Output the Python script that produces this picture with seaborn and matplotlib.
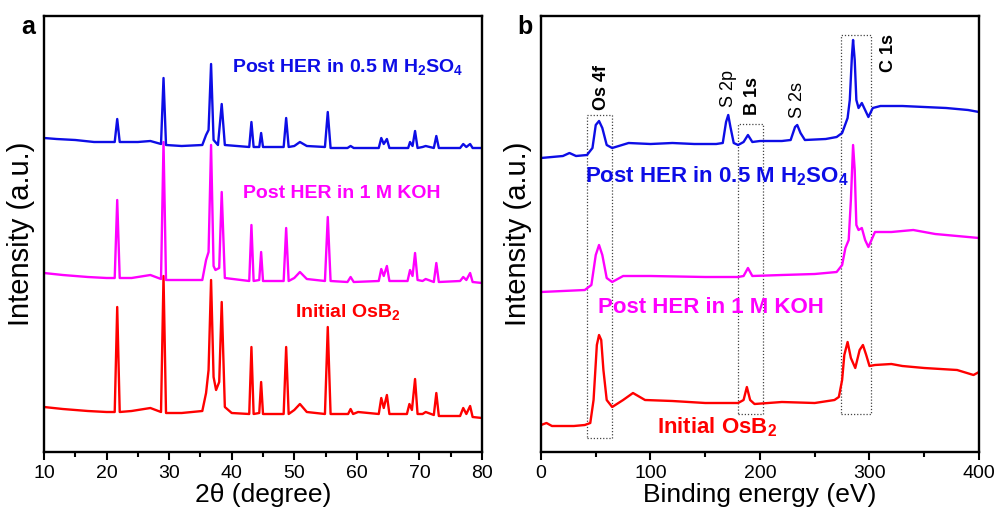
import matplotlib
matplotlib.use("Agg")
import matplotlib.pyplot as plt
import seaborn as sns
from matplotlib.ticker import MultipleLocator
from matplotlib.patches import Rectangle

# ---------------- Panel a : XRD (2theta, offset intensity in a.u.) ----------------
xrd_h2so4_x = [10.0, 12.0, 15.0, 18.0, 21.3, 21.7, 22.1, 25.0, 27.0, 28.7, 29.1, 29.5, 32.0, 35.3,
               35.9, 36.3, 36.7, 37.1, 37.8, 38.4, 38.9, 42.8, 43.15, 43.5, 44.4, 44.7, 45.0, 48.3,
               48.7, 49.1, 50.0, 50.9, 52.0, 54.9, 55.35, 55.8, 58.5, 59.0, 59.5, 63.5, 63.9, 64.3,
               64.8, 65.2, 68.2, 68.5, 68.9, 69.3, 69.7, 70.5, 71.0, 72.3, 72.7, 73.1, 76.5, 77.0,
               77.5, 78.1, 78.5, 80.0]
xrd_h2so4_y = [314, 313, 312, 310, 310, 333, 310, 310, 311, 308, 374, 307, 306, 307,
               317, 322, 388, 312, 307, 348, 307, 305, 330, 305, 305, 319, 305, 305,
               334, 305, 306, 310, 306, 305, 340, 304, 304, 306, 304, 304, 314, 308,
               313, 304, 304, 310, 306, 321, 304, 305, 306, 304, 316, 304, 304, 308,
               305, 308, 304, 304]

xrd_koh_x = [10.0, 13.0, 17.0, 20.0, 21.3, 21.7, 22.1, 24.0, 27.0, 28.7, 29.1, 29.5, 32.0, 35.3,
             35.9, 36.3, 36.7, 37.1, 37.4, 38.0, 38.4, 38.9, 42.8, 43.15, 43.5, 44.4, 44.7, 45.0,
             48.3, 48.7, 49.1, 50.0, 50.9, 52.0, 54.9, 55.35, 55.8, 58.5, 59.0, 59.5, 63.5, 63.9,
             64.3, 64.8, 65.2, 68.1, 68.5, 68.9, 69.3, 69.7, 70.5, 71.0, 72.3, 72.7, 73.1, 76.5,
             77.0, 77.5, 78.1, 78.5, 80.0]
xrd_koh_y = [179, 177, 175, 174, 174, 252, 174, 174, 177, 173, 310, 172, 172, 172,
             192, 200, 307, 186, 182, 184, 260, 174, 171, 227, 171, 172, 200, 171,
             171, 224, 171, 174, 180, 173, 171, 235, 171, 170, 175, 170, 171, 183,
             176, 186, 171, 171, 182, 176, 199, 172, 171, 173, 170, 189, 170, 171,
             175, 172, 179, 170, 169]

xrd_init_x = [10.0, 13.0, 17.0, 20.0, 21.3, 21.7, 22.1, 24.0, 27.0, 28.7, 29.1, 29.5, 32.0, 35.3,
              35.9, 36.3, 36.7, 37.1, 37.5, 38.0, 38.4, 38.9, 40.0, 42.8, 43.15, 43.5, 44.4, 44.7,
              45.0, 48.3, 48.7, 49.1, 50.0, 50.9, 52.0, 54.9, 55.35, 55.8, 58.6, 59.0, 59.4, 60.2,
              63.5, 63.9, 64.3, 64.8, 65.2, 68.0, 68.4, 68.8, 69.3, 69.7, 70.5, 71.0, 72.3, 72.7,
              73.1, 76.5, 77.0, 77.5, 78.1, 78.5, 80.0]
xrd_init_y = [45, 43, 41, 40, 40, 145, 40, 41, 44, 40, 176, 39, 39, 41,
              59, 82, 172, 75, 62, 70, 150, 45, 39, 38, 105, 38, 39, 70,
              38, 38, 105, 38, 42, 48, 40, 38, 125, 38, 38, 43, 38, 40,
              38, 54, 44, 57, 38, 38, 48, 42, 73, 38, 38, 40, 37, 59,
              36, 36, 44, 38, 46, 35, 34]

# ---------------- Panel b : XPS survey (binding energy, offset intensity) ----------------
xps_h2so4_x = [0, 20, 26, 32, 42, 47, 50, 53, 56, 60, 65, 80, 100, 120, 140, 160, 166, 169, 171,
               173, 176, 180, 185, 189, 193, 200, 220, 228, 232, 234, 237, 241, 260, 270, 275, 280,
               282, 284, 285, 286.5, 288, 290, 293, 296, 299, 303, 310, 330, 350, 370, 390, 400]
xps_h2so4_y = [294, 296, 299, 296, 297, 304, 327, 331, 324, 307, 304, 309, 308, 309, 308, 308, 309,
               330, 337, 325, 309, 307, 310, 317, 310, 311, 311, 312, 325, 327, 319, 312, 313, 315,
               319, 334, 352, 397, 412, 392, 352, 344, 349, 342, 335, 344, 346, 346, 345, 344, 342,
               340]

xps_koh_x = [0, 20, 40, 46, 50, 53, 56, 60, 65, 75, 100, 150, 180, 185, 189, 193, 220, 250, 270,
             275, 278, 281, 283, 285, 286.5, 288, 290, 293, 296, 299, 305, 320, 340, 360, 380, 400]
xps_koh_y = [160, 161, 162, 167, 197, 207, 197, 174, 170, 176, 176, 175, 175, 176, 184, 176, 177,
             178, 180, 187, 204, 212, 252, 307, 282, 227, 222, 224, 212, 205, 220, 220, 222, 218,
             216, 214]

xps_init_x = [0, 5, 10, 30, 40, 45, 48, 51, 53, 55, 57, 60, 65, 75, 84, 95, 120, 150, 180, 185,
              188, 191, 195, 220, 250, 268, 272, 275, 277, 280, 283, 287, 291, 294, 297, 300, 305,
              320, 330, 350, 380, 395, 400]
xps_init_y = [27, 29, 26, 26, 27, 29, 52, 107, 117, 112, 82, 52, 45, 52, 59, 52, 51, 49, 49, 52,
              65, 52, 48, 50, 49, 52, 55, 72, 97, 110, 94, 84, 102, 107, 97, 86, 87, 88, 86, 84,
              82, 77, 80]

# dotted boxes around Os 4f, B 1s and C 1s regions (x0, x1, y0, y1)
box_x0 = [42, 180, 274]
box_x1 = [65, 203, 301]
box_y0 = [14, 38, 38]
box_y1 = [337, 328, 417]

# peak labels in panel b
peak_names = ["Os 4f", "S 2p", "B 1s", "S 2s", "C 1s"]
peak_x = [55.7, 171, 193, 234, 317]
peak_y = [342, 345, 337, 334, 380]
peak_bold = [True, False, True, False, True]

BLUE = "#0d0de6"
MAG = "#ff00ff"
RED = "#ff0000"

sns.set_theme(style="white")
plt.rcParams["font.family"] = ["Liberation Sans", "DejaVu Sans"]
plt.rcParams["mathtext.fontset"] = "custom"
plt.rcParams["mathtext.rm"] = "Liberation Sans"
plt.rcParams["mathtext.bf"] = "Liberation Sans:bold"
plt.rcParams["mathtext.it"] = "Liberation Sans:italic"
plt.rcParams["text.color"] = "black"
plt.rcParams["axes.labelcolor"] = "black"
plt.rcParams["xtick.color"] = "black"
plt.rcParams["xtick.labelcolor"] = "black"

fig = plt.figure(figsize=(10.01, 5.19), dpi=100)
ax_a = fig.add_axes([0.04396, 0.12909, 0.43756, 0.84008])
ax_b = fig.add_axes([0.54046, 0.12909, 0.43756, 0.84008])

for x, y, c in [(xrd_init_x, xrd_init_y, RED), (xrd_koh_x, xrd_koh_y, MAG),
                (xrd_h2so4_x, xrd_h2so4_y, BLUE)]:
    sns.lineplot(x=x, y=y, color=c, lw=1.7, ax=ax_a, estimator=None, sort=False)

for x, y, c in [(xps_init_x, xps_init_y, RED), (xps_koh_x, xps_koh_y, MAG),
                (xps_h2so4_x, xps_h2so4_y, BLUE)]:
    sns.lineplot(x=x, y=y, color=c, lw=1.7, ax=ax_b, estimator=None, sort=False)

for x0, x1, y0, y1 in zip(box_x0, box_x1, box_y0, box_y1):
    ax_b.add_patch(Rectangle((x0, y0), x1 - x0, y1 - y0, fill=False, ls=(0, (1, 1.5)),
                             lw=0.9, ec="#444444"))

for name, px, py, b in zip(peak_names, peak_x, peak_y, peak_bold):
    ax_b.text(px, py, name, rotation=90, ha="center", va="bottom", fontsize=13,
              fontweight="bold" if b else "normal", color="black")

ax_a.set_xlim(10, 80)
ax_b.set_xlim(0, 400)
for ax, maj, mnr in [(ax_a, 10, 5), (ax_b, 100, 50)]:
    ax.set_ylim(0, 436)
    ax.set_yticks([])
    ax.xaxis.set_major_locator(MultipleLocator(maj))
    ax.xaxis.set_minor_locator(MultipleLocator(mnr))
    ax.tick_params(axis="x", which="both", direction="out", bottom=True, top=False,
                   width=1.5, color="black", labelcolor="black", labelsize=14, pad=3)
    ax.tick_params(axis="x", which="major", length=6)
    ax.tick_params(axis="x", which="minor", length=3.5)
    for s in ax.spines.values():
        s.set_visible(True)
        s.set_color("black")
        s.set_linewidth(1.7)
    ax.set_ylabel("Intensity (a.u.)", fontsize=21, color="black")
    ax.yaxis.set_label_coords(-0.02, 0.5)

ax_a.set_xlabel("2θ (degree)", fontsize=19, labelpad=1, color="black")
ax_b.set_xlabel("Binding energy (eV)", fontsize=19, labelpad=1, color="black")

# series labels panel a
ax_a.text(40.0, 380, r"Post HER in 0.5 M H$_\mathbf{2}$SO$_\mathbf{4}$", color=BLUE,
          fontsize=14, fontweight="bold", ha="left", va="baseline")
ax_a.text(41.8, 254, "Post HER in 1 M KOH", color=MAG, fontsize=14, fontweight="bold",
          ha="left", va="baseline")
ax_a.text(50.1, 135, r"Initial OsB$_\mathbf{2}$", color=RED, fontsize=14, fontweight="bold",
          ha="left", va="baseline")

# series labels panel b
ax_b.text(40, 270, r"Post HER in 0.5 M H$_\mathbf{2}$SO$_\mathbf{4}$", color=BLUE,
          fontsize=16, fontweight="bold", ha="left", va="baseline")
ax_b.text(52, 139, "Post HER in 1 M KOH", color=MAG, fontsize=16, fontweight="bold",
          ha="left", va="baseline")
ax_b.text(106, 19, r"Initial OsB$_\mathbf{2}$", color=RED, fontsize=16, fontweight="bold",
          ha="left", va="baseline")

fig.text(28 / 1001, 1 - 27 / 519, "a", fontsize=18, fontweight="bold", ha="center", va="center")
fig.text(525 / 1001, 1 - 27 / 519, "b", fontsize=18, fontweight="bold", ha="center", va="center")

fig.savefig("out.png", dpi=100)
